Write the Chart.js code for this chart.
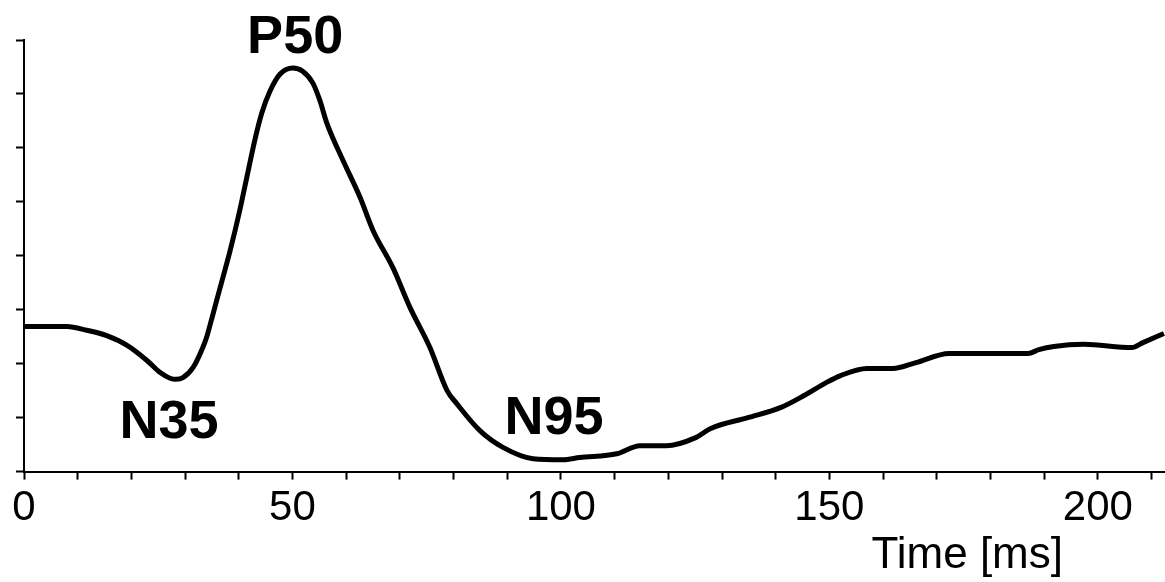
<!DOCTYPE html>
<html lang="en">

<head>
    <meta charset="UTF-8">
    <title>PERG waveform</title>
    <style>
        html, body {
            margin: 0;
            padding: 0;
            background: #ffffff;
        }

        .chart-wrapper {
            width: 1165px;
            height: 582px;
        }
    </style>
</head>

<body>
    <div class="chart-wrapper">
        <canvas id="pergChart"></canvas>
    </div>

    <script src="https://cdn.jsdelivr.net/npm/chart.js"></script>
    <script>
        // time in ms, amplitude in axis tick units (8 unlabeled divisions)
        const timeMs = [0, 8, 11.7, 15.4, 19.2, 22.9, 25.3, 27.2, 28.3, 29.6, 31.5, 33.3, 34.1, 35.2, 36.5, 38.4,
            40.2, 41.7, 43.0, 44.3, 45.8, 47.7, 50.1, 51.9, 53.8, 55.1, 56.4, 59.4, 62.6, 65.0, 68.7, 71.9,
            75.6, 78.8, 80.6, 84.9, 89.2, 94.8, 100.4, 103.5, 110.4, 114.7, 119.6, 125.1, 127.9, 134.8, 141.0,
            145.3, 149.4, 152.1, 157.0, 161.8, 166.1, 172.3, 187.0, 189.0, 191.8, 197.4, 206.3, 208.4, 212.3];
        const amplitude = [2.69, 2.69, 2.62, 2.52, 2.34, 2.06, 1.84, 1.73, 1.71, 1.74, 1.93, 2.30, 2.52, 2.92, 3.40, 4.10,
            4.85, 5.55, 6.15, 6.65, 7.05, 7.37, 7.48, 7.42, 7.20, 6.88, 6.46, 5.77, 5.08, 4.47, 3.78, 3.04,
            2.30, 1.50, 1.26, 0.76, 0.45, 0.24, 0.22, 0.26, 0.33, 0.48, 0.48, 0.63, 0.80, 1.00, 1.19,
            1.41, 1.65, 1.78, 1.91, 1.91, 2.02, 2.19, 2.19, 2.26, 2.32, 2.36, 2.30, 2.39, 2.56];

        const xMajorTicks = [0, 50, 100, 150, 200];

        // peak names, placed at (time, baseline amplitude)
        const peakNames = ['N35', 'P50', 'N95'];
        const peakTimes = [27.0, 50.5, 98.7];
        const peakLabelLevels = [0.63, 7.76, 0.70];

        const axisTitle = 'Time [ms]';

        const points = timeMs.map((t, i) => ({ x: t, y: amplitude[i] }));

        const textPlugin = {
            id: 'textPlugin',
            afterDraw(chart) {
                const { ctx, scales, chartArea } = chart;
                ctx.save();
                ctx.fillStyle = '#000';
                ctx.textAlign = 'center';
                ctx.textBaseline = 'alphabetic';
                ctx.font = "bold 54px 'Liberation Sans', Arial, sans-serif";
                peakNames.forEach((name, i) => {
                    ctx.fillText(name, scales.x.getPixelForValue(peakTimes[i]), scales.y.getPixelForValue(peakLabelLevels[i]));
                });
                // axis title sits under the right part of the axis
                ctx.font = "44px 'Liberation Sans', Arial, sans-serif";
                ctx.textAlign = 'right';
                ctx.fillText(axisTitle, chartArea.right - 102, chartArea.bottom + 96);
                ctx.restore();
            }
        };

        const ctx = document.getElementById('pergChart').getContext('2d');

        new Chart(ctx, {
            type: 'line',
            data: {
                datasets: [{
                    data: points,
                    borderColor: '#000',
                    borderWidth: 5,
                    pointRadius: 0,
                    fill: false,
                    cubicInterpolationMode: 'monotone'
                }]
            },
            options: {
                responsive: true,
                maintainAspectRatio: false,
                animation: false,
                events: [],
                layout: {
                    padding: { left: 16, right: 0, top: 40, bottom: 44 }
                },
                plugins: {
                    legend: { display: false },
                    tooltip: { enabled: false }
                },
                scales: {
                    x: {
                        type: 'linear',
                        min: 0,
                        max: 212.5,
                        border: { display: true, color: '#000', width: 2 },
                        grid: {
                            display: true,
                            drawOnChartArea: false,
                            drawTicks: true,
                            tickLength: 8,
                            tickColor: '#000',
                            tickWidth: 2
                        },
                        ticks: {
                            stepSize: 10,
                            includeBounds: false,
                            autoSkip: false,
                            maxRotation: 0,
                            padding: 4,
                            color: '#000',
                            font: { size: 42, family: "'Liberation Sans', Arial, sans-serif" },
                            callback: (v) => xMajorTicks.includes(v) ? String(v) : ''
                        }
                    },
                    y: {
                        min: 0,
                        max: 8,
                        border: { display: true, color: '#000', width: 2 },
                        grid: {
                            display: true,
                            drawOnChartArea: false,
                            drawTicks: true,
                            tickLength: 8,
                            tickColor: '#000',
                            tickWidth: 2
                        },
                        ticks: {
                            stepSize: 1,
                            display: false
                        }
                    }
                }
            },
            plugins: [textPlugin]
        });
    </script>
</body>

</html>
